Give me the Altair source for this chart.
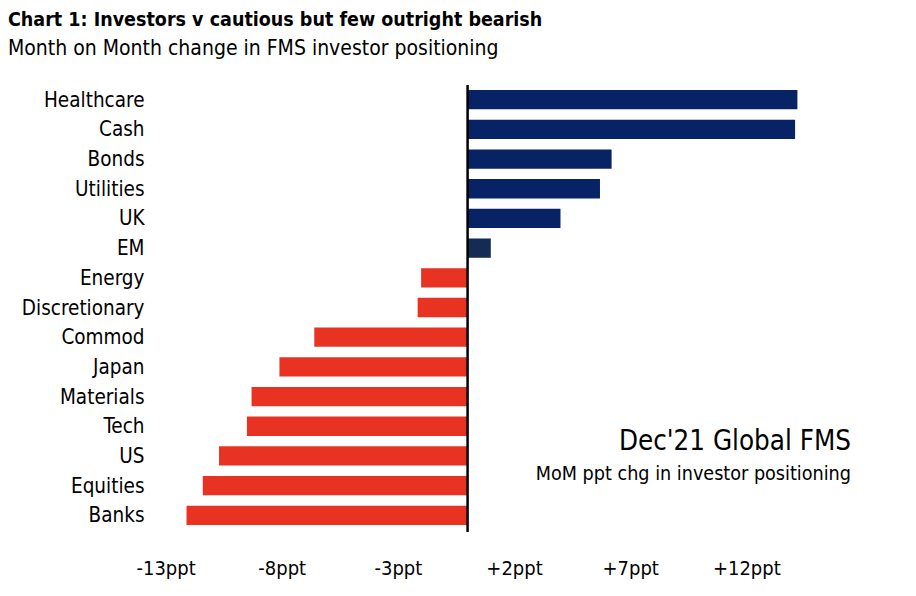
import altair as alt
import pandas as pd

categories = ["Healthcare", "Cash", "Bonds", "Utilities", "UK", "EM", "Energy",
              "Discretionary", "Commod", "Japan", "Materials", "Tech", "US",
              "Equities", "Banks"]
changes = [14.2, 14.1, 6.2, 5.7, 4.0, 1.0, -2.0, -2.15, -6.6, -8.1, -9.3, -9.5,
           -10.7, -11.4, -12.1]
tick_values = [-13, -8, -3, 2, 7, 12]

df = pd.DataFrame({"category": categories, "change": changes})

FONT = "DejaVu Sans Condensed"
W, H = 662, 445
NAVY = "#082266"
EM_NAVY = "#142c54"
RED = "#e83323"

base = alt.Chart(df)

bars = base.transform_calculate(
    fill=f"datum.category === 'EM' ? '{EM_NAVY}' : (datum.change > 0 ? '{NAVY}' : '{RED}')"
).mark_bar().encode(
    y=alt.Y("category:N", sort=categories, title=None,
            scale=alt.Scale(paddingInner=0.35, paddingOuter=0.17),
            axis=alt.Axis(domain=False, ticks=False, labelFont=FONT,
                          labelFontSize=20.5, labelColor="#000", labelPadding=10,
                          labelOffset=1)),
    x=alt.X("change:Q", title=None,
            scale=alt.Scale(domain=[-13.5, 15], nice=False, zero=False),
            axis=alt.Axis(values=tick_values, grid=False, domain=False, ticks=False,
                          labelExpr="datum.value > 0 ? '+' + datum.value + 'ppt' : datum.value + 'ppt'",
                          labelFont=FONT, labelFontSize=20, labelColor="#000",
                          labelPadding=28)),
    color=alt.Color("fill:N", scale=None, legend=None),
)

zero = alt.Chart(pd.DataFrame({"x": [0]})).mark_rule(color="#000", strokeWidth=2.5).encode(
    x="x:Q", y=alt.value(0), y2=alt.value(H + 2)
)

note1 = alt.Chart(pd.DataFrame({"t": ["Dec'21 Global FMS"]})).mark_text(
    align="right", baseline="alphabetic", font=FONT, fontSize=27.5, color="#000"
).encode(text="t:N", x=alt.value(697), y=alt.value(365))

note2 = alt.Chart(pd.DataFrame({"t": ["MoM ppt chg in investor positioning"]})).mark_text(
    align="right", baseline="alphabetic", font=FONT, fontSize=19.6, color="#000"
).encode(text="t:N", x=alt.value(697), y=alt.value(395))

chart = alt.layer(bars, zero, note1, note2).properties(
    width=W, height=H,
    title=alt.TitleParams(
        text="Chart 1: Investors v cautious  but few outright bearish",
        subtitle="Month on Month change in FMS investor positioning",
        anchor="start", frame="group", dx=-146,
        font=FONT, fontSize=19.5, fontWeight="bold", color="#000",
        subtitleFont=FONT, subtitleFontSize=21, subtitleColor="#000",
        subtitlePadding=7, offset=24,
    ),
    autosize=alt.AutoSizeParams(type="none"),
    padding={"left": 146, "top": 77, "right": 92, "bottom": 58},
).configure(background="#ffffff").configure_view(strokeWidth=0)

chart.save("out.html", embed_options={"renderer": "svg", "actions": False})
